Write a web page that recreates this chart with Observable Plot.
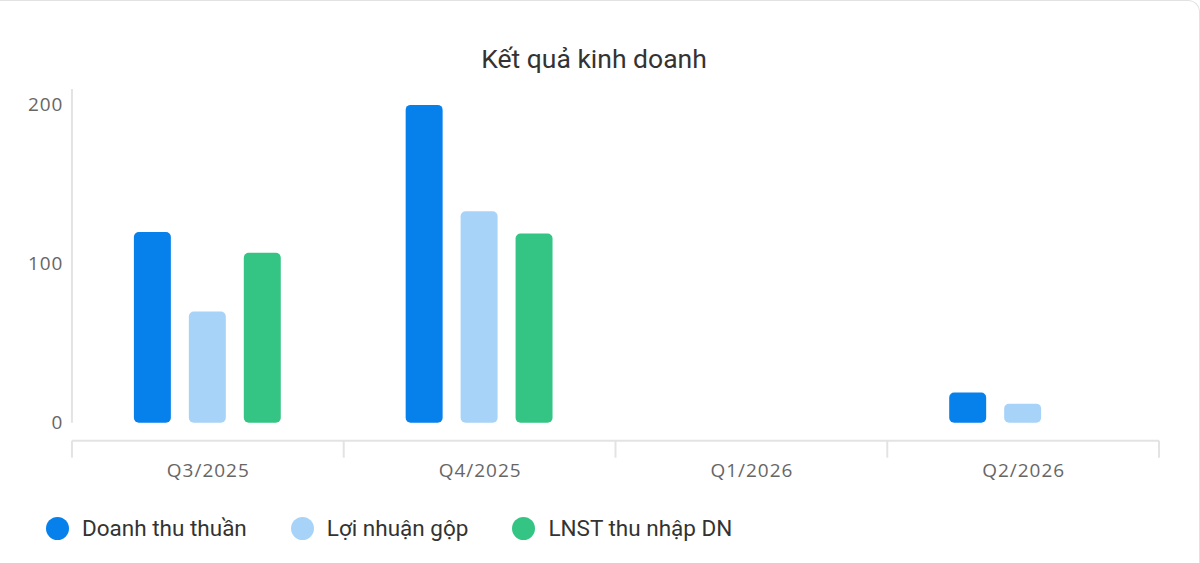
<!DOCTYPE html>
<html><head><meta charset="utf-8">
<script src="https://cdn.jsdelivr.net/npm/d3@7"></script>
<script src="https://cdn.jsdelivr.net/npm/@observablehq/plot@0.6"></script>
<style>
html,body{margin:0;padding:0;background:#fff;}
#card{position:relative;width:1200px;height:563px;box-sizing:border-box;border-top:1px solid #e2e2e2;border-right:1px solid #e2e2e2;border-top-right-radius:12px;overflow:hidden;}
#title{position:absolute;top:42px;left:-6px;width:1200px;text-align:center;font-family:Roboto,sans-serif;font-size:26.5px;color:#333;}
#chart{position:absolute;top:80px;left:0;}
#legend{position:absolute;top:514px;left:46px;display:flex;font-family:Roboto,sans-serif;font-size:22.5px;color:#333;}
.item{display:flex;align-items:center;margin-right:44px;}
.dot{width:23px;height:23px;border-radius:50%;margin-right:13px;}
</style></head><body>
<div id="card">
<div id="title">Kết quả kinh doanh</div>
<div id="chart"></div>
<div id="legend"></div>
</div>
<script>
const quarters = ["Q3/2025","Q4/2025","Q1/2026","Q2/2026"];
const seriesNames = ["Doanh thu thuần","Lợi nhuận gộp","LNST thu nhập DN"];
const seriesColors = ["#0680ea","#a8d3f8","#34c584"];
const doanhThu = [120, 200, null, 19];
const loiNhuan = [70, 133, null, 12];
const lnst = [107, 119, null, null];
const yTicks = [0, 100, 200];

const values = [doanhThu, loiNhuan, lnst];
const data = [];
quarters.forEach((q, i) => seriesNames.forEach((s, j) => {
  data.push({quarter: q, series: s, value: values[j][i]});
}));

const chart = Plot.plot({
  width: 1200, height: 425,
  marginLeft: 72, marginRight: 40, marginTop: 8, marginBottom: 83,
  style: {fontSize: "19px", fontFamily: "'Open Sans', sans-serif", color: "#666", background: "transparent", letterSpacing: "1px"},
  fx: {domain: quarters, padding: 0, axis: "bottom", tickSize: 0, tickPadding: 40, label: null},
  x: {domain: seriesNames, paddingInner: 0.327, paddingOuter: 1.136, axis: null},
  y: {domain: [0, 210], ticks: yTicks, tickSize: 0, tickPadding: 9, label: null},
  color: {domain: seriesNames, range: seriesColors},
  marks: [
    Plot.barY(data, {fx: "quarter", x: "series", y: "value", fill: "series", rx: 5})
  ]
});
document.getElementById("chart").appendChild(chart);

// axis decorations derived from the scales
const fx = chart.scale("fx"), y = chart.scale("y");
const svg = d3.select(chart);
const g = svg.append("g").attr("stroke", "#e3e3e3").attr("stroke-width", 2);
const y0 = y.apply(0), axisY = y0 + 18;
const left = fx.apply(quarters[0]);
const right = fx.apply(quarters[quarters.length - 1]) + fx.bandwidth;
g.append("line").attr("x1", left).attr("x2", left).attr("y1", y.apply(210)).attr("y2", y0);
g.append("line").attr("x1", left).attr("x2", right).attr("y1", axisY).attr("y2", axisY);
const bounds = quarters.map(q => fx.apply(q)).concat([right]);
bounds.forEach(b => g.append("line").attr("x1", b).attr("x2", b).attr("y1", axisY).attr("y2", axisY + 17));

const legend = document.getElementById("legend");
seriesNames.forEach((s, i) => {
  const it = document.createElement("div"); it.className = "item";
  const d = document.createElement("div"); d.className = "dot"; d.style.background = seriesColors[i];
  const t = document.createElement("span"); t.textContent = s;
  it.appendChild(d); it.appendChild(t); legend.appendChild(it);
});
</script>
</body></html>
